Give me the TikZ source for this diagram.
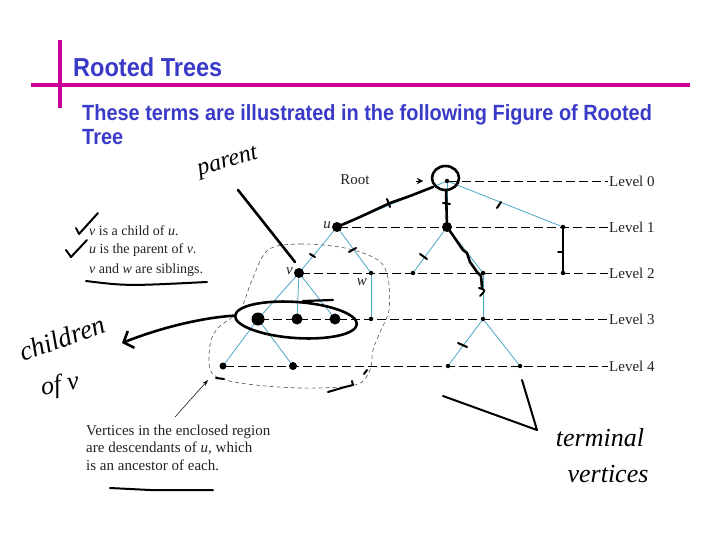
\documentclass[tikz,border=0pt]{standalone}
\usepackage{fontspec}
\setmainfont{Liberation Serif}
\newfontfamily\headfont{Liberation Sans}
\usetikzlibrary{arrows.meta,shapes.geometric}
\definecolor{headblue}{HTML}{3A3AC8}
\definecolor{barmag}{HTML}{CC0099}
\definecolor{edgeteal}{HTML}{4CA8C4}
\definecolor{captext}{HTML}{222222}
\definecolor{regiongray}{HTML}{555555}
\begin{document}
\begin{tikzpicture}[x=1pt,y=-1pt,
  vtx/.style={circle,fill=black,inner sep=0pt,minimum size=4.5pt},
  bigdot/.style={circle,fill=black,inner sep=0pt,minimum size=#1},
  tedge/.style={draw=edgeteal,line width=0.8pt},
  lvl/.style={draw=black,line width=0.6pt,dash pattern=on 9pt off 4pt},
  lvllab/.style={anchor=west,inner sep=1pt,font=\fontsize{15}{15}\selectfont,text=captext},
  figtext/.style={anchor=base west,inner sep=0pt,text=captext},
  hand/.style={draw=black,line width=2.6pt,line cap=round,line join=round},
  handtext/.style={inner sep=0pt,text=black},
  headtext/.style={anchor=base west,inner sep=0pt,text=headblue},
  regiondash/.style={draw=regiongray,line width=0.6pt,dash pattern=on 4pt off 3pt}]
\useasboundingbox (0,0) rectangle (720,540);
\fill[white] (0,0) rectangle (720,540);
% title bars
\draw[barmag,line width=3.5pt] (60,40) -- (60,108);
\draw[barmag,line width=3.5pt] (31,85) -- (690,85);
% headings
\node[headtext,font=\headfont\bfseries\fontsize{26}{26}\selectfont] (title) at (73,77) {\scalebox{0.905}[1]{Rooted Trees}};
\node[headtext,font=\headfont\bfseries\fontsize{22}{22}\selectfont] (body1) at (82,121) {\scalebox{0.905}[1]{These terms are illustrated in the following Figure of Rooted}};
\node[headtext,font=\headfont\bfseries\fontsize{22}{22}\selectfont] (body2) at (82,145) {\scalebox{0.905}[1]{Tree}};
% vertices
\node[vtx] (root) at (447,181) {};
\node[vtx] (u) at (337,227) {};
\node[vtx] (m) at (447,227) {};
\node[vtx] (r) at (563,227) {};
\node[vtx] (v) at (299,273) {};
\node[vtx] (w) at (371,273) {};
\node[vtx] (a) at (413,273) {};
\node[vtx] (b) at (483,273) {};
\node[vtx] (c) at (563,273) {};
\node[vtx] (v1) at (258,319) {};
\node[vtx] (v2) at (297,319) {};
\node[vtx] (v3) at (335,319) {};
\node[vtx] (w1) at (371,319) {};
\node[vtx] (b1) at (483,319) {};
\node[vtx] (v11) at (223,366) {};
\node[vtx] (v12) at (293,366) {};
\node[vtx] (b11) at (448,366) {};
\node[vtx] (b12) at (520,366) {};
% level labels
\node[lvllab] (L0) at (608,181) {Level 0};
\node[lvllab] (L1) at (608,227) {Level 1};
\node[lvllab] (L2) at (608,273) {Level 2};
\node[lvllab] (L3) at (608,319) {Level 3};
\node[lvllab] (L4) at (608,366) {Level 4};
% level dashes
\draw[lvl] (root) -- (L0.west);
\draw[lvl] (u) -- (L1.west);
\draw[lvl] (v) -- (L2.west);
\draw[lvl] (v1) -- (L3.west);
\draw[lvl] (v11) -- (L4.west);
% tree edges
\draw[tedge] (root) -- (u);
\draw[tedge] (root) -- (m);
\draw[tedge] (root) -- (r);
\draw[tedge] (u) -- (v);
\draw[tedge] (u) -- (w);
\draw[tedge] (m) -- (a);
\draw[tedge] (m) -- (b);
\draw[tedge] (r) -- (c);
\draw[tedge] (v) -- (v1);
\draw[tedge] (v) -- (v2);
\draw[tedge] (v) -- (v3);
\draw[tedge] (w) -- (w1);
\draw[tedge] (b) -- (b1);
\draw[tedge] (v1) -- (v11);
\draw[tedge] (v1) -- (v12);
\draw[tedge] (b1) -- (b11);
\draw[tedge] (b1) -- (b12);
% vertex labels
\node[font=\fontsize{15}{15}\selectfont\itshape,text=captext,anchor=east,inner sep=1pt] (ulab) at (332,225) {u};
\node[font=\fontsize{15}{15}\selectfont\itshape,text=captext,anchor=east,inner sep=1pt] (vlab) at (294,271) {v};
\node[font=\fontsize{15}{15}\selectfont\itshape,text=captext,anchor=east,inner sep=1pt] (wlab) at (368,282) {w};
% root label and arrow tip
\node[font=\fontsize{15}{15}\selectfont,text=captext,inner sep=0pt] (rootlab) at (355,180) {Root};
\coordinate (rtail) at (416,181);
\coordinate (rtip) at (423,181);
\draw[-{Stealth[length=6pt,width=6pt]},line width=0.4pt] (rtail) -- (rtip);
% enclosed region
\draw[regiondash] plot[smooth cycle,tension=0.55] coordinates {
  (268,250) (300,244) (345,248) (378,260) (388,278) (389,310) (381,330)
  (373,350) (370,370) (355,385) (300,388) (240,383) (212,373) (210,345)
  (218,328) (240,310) (252,280)};
% caption arrow
\coordinate (captail) at (175,417);
\coordinate (capttip) at (208,380);
\draw[-{Stealth[length=6pt,width=4pt]},line width=0.5pt] (captail) -- (capttip);
% captions
\node[figtext,font=\fontsize{14}{14}\selectfont] (c1) at (89,236) {\textit{v} is a child of \textit{u}.};
\node[figtext,font=\fontsize{14}{14}\selectfont] (c2) at (89,254) {\textit{u} is the parent of \textit{v}.};
\node[figtext,font=\fontsize{14}{14}\selectfont] (c3) at (89,273) {\textit{v} and \textit{w} are siblings.};
\node[figtext,font=\fontsize{15}{15}\selectfont] (d1) at (86,435) {Vertices in the enclosed region};
\node[figtext,font=\fontsize{15}{15}\selectfont] (d2) at (86,452) {are descendants of \textit{u}, which};
\node[figtext,font=\fontsize{15}{15}\selectfont] (d3) at (86,470) {is an ancestor of each.};
% enlarged dots (hand)
\node[bigdot=10pt] (hu) at (u) {};
\node[bigdot=10pt] (hm) at (m) {};
\node[bigdot=10pt] (hv) at (v) {};
\node[bigdot=13pt] (hv1) at (v1) {};
\node[bigdot=11pt] (hv2) at (v2) {};
\node[bigdot=11pt] (hv3) at (v3) {};
\node[bigdot=7pt] (hv11) at (v11) {};
\node[bigdot=8pt] (hv12) at (v12) {};
% root ring
\node[hand,ellipse,minimum width=27pt,minimum height=24pt,inner sep=0pt] (ring) at (445.5,178) {};
% handwritten strokes
\draw[hand] (hu.center) -- (360,217) -- (390,203) -- (410,196) -- (433,187);
\draw[hand,line width=2pt] (387,199) -- (390,207);
\draw[hand] (446,190) -- (hm.center);
\draw[hand,line width=2pt] (443,203) -- (450,204);
\draw[hand] (hm.center) -- (452,234) -- (463,250) -- (467,253) -- (470,262) -- (477,272) -- (481,276) -- (482,287);
\draw[hand,line width=2pt] (479,288) .. controls (486,290) .. (480,296);
\draw[hand] (r) -- (c);
\draw[hand,line width=2pt] (558,252) -- (563,252);
\draw[hand,line width=2pt] (497,208) -- (501,202);
\draw[hand,line width=2pt] (420,254) -- (427,259);
\draw[hand,line width=2pt] (310,254) -- (315,257);
\draw[hand,line width=2pt] (349,252) -- (356,248);
\draw[hand,line width=2pt] (458,343) -- (467,347);
\draw[hand,line width=2pt] (216,378) -- (224,379);
\draw[hand,line width=2pt] (328,392) -- (345,387) -- (353,385) -- (352,381);
\draw[hand,line width=2pt] (364,374) -- (367,370);
% ellipse round the children of v
\node[hand,ellipse,minimum width=122pt,minimum height=36pt,inner sep=0pt,rotate=-4] (kids) at (296,320) {};
\draw[hand,line width=2.2pt] (303,301) -- (333,300);
\coordinate (chtip) at (122,343);
\draw[hand,-{Straight Barb[length=8pt,width=18pt]}] (kids.west) .. controls (200,318) and (160,328) .. (chtip);
% parent pointer
\coordinate (ptail) at (238,190);
\coordinate (phead) at (295,262);
\draw[hand] (ptail) -- (phead);
% checkmarks
\draw[hand,line width=2pt] (76,228) -- (79,234) -- (98,213);
\draw[hand,line width=2pt] (66,250) -- (71,257) -- (87,240);
% underlines
\draw[hand,line width=2pt] (86,281) .. controls (127,286) .. (207,282);
\draw[hand,line width=2pt] (110,488) -- (150,490) -- (213,490);
% terminal pointer
\coordinate (vtip) at (537,430);
\draw[hand,line width=2pt] (443,396) -- (vtip) -- (522,380);
% handwritten words
\node[handtext,font=\fontsize{24}{24}\selectfont\itshape,rotate=16] (parent) at (228,163) {parent};
\node[handtext,font=\fontsize{27}{27}\selectfont\itshape,rotate=20] (children) at (62,338) {children};
\node[handtext,font=\fontsize{26}{26}\selectfont\itshape,rotate=10] (ofv) at (60,386) {of v};
\node[handtext,font=\fontsize{26}{26}\selectfont\itshape] (terminal) at (600,438) {terminal};
\node[handtext,font=\fontsize{26}{26}\selectfont\itshape] (vertices) at (608,474) {vertices};
\end{tikzpicture}
\end{document}
